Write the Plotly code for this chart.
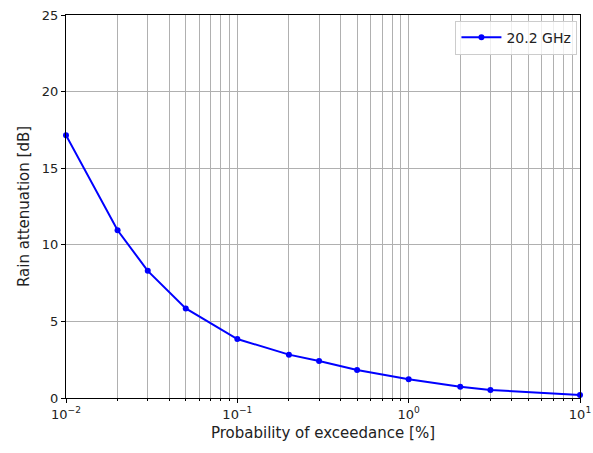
import plotly.graph_objects as go

prob = [0.01, 0.02, 0.03, 0.05, 0.1, 0.2, 0.3, 0.5, 1, 2, 3, 10]
atten = [17.15, 10.95, 8.3, 5.85, 3.85, 2.83, 2.42, 1.83, 1.22, 0.74, 0.53, 0.19]
series_name = "20.2 GHz"
xtick_vals = [0.01, 0.1, 1, 10]
xtick_text = ["10<sup>−2</sup>", "10<sup>−1</sup>", "10<sup>0</sup>", "10<sup>1</sup>"]
ytick_vals = [0, 5, 10, 15, 20, 25]

fig = go.Figure()
fig.add_trace(go.Scatter(
    x=prob, y=atten, mode="lines+markers", name=series_name,
    line=dict(color="#0000ff", width=2),
    marker=dict(color="#0000ff", size=6),
    cliponaxis=False,
))

fig.update_layout(
    width=593, height=453,
    margin=dict(l=66, r=13, t=15, b=55, autoexpand=False),
    paper_bgcolor="white", plot_bgcolor="white",
    font=dict(family="DejaVu Sans", size=13, color="#222"),
    showlegend=True,
    legend=dict(x=0.995, y=0.985, xanchor="right", yanchor="top",
                bgcolor="rgba(255,255,255,0.8)", bordercolor="#cccccc", borderwidth=1,
                font=dict(size=14), itemwidth=40),
    xaxis=dict(
        type="log", range=[-2, 1], automargin=False, ticklabeloverflow="allow",
        tickvals=xtick_vals, ticktext=xtick_text,
        showgrid=True, gridcolor="#b0b0b0", gridwidth=1,
        ticks="outside", ticklen=4, tickcolor="black",
        showline=True, linecolor="black", linewidth=1, mirror=True,
        minor=dict(showgrid=True, gridcolor="#b0b0b0", gridwidth=1,
                   ticks="outside", ticklen=2, tickcolor="black",
                   dtick="D1"),
        title=dict(text="Probability of exceedance [%]", font=dict(size=15), standoff=6),
        zeroline=False,
    ),
    yaxis=dict(
        range=[0, 25], tickvals=ytick_vals, automargin=False, ticklabeloverflow="allow",
        showgrid=True, gridcolor="#b0b0b0", gridwidth=1,
        ticks="outside", ticklen=4, tickcolor="black",
        showline=True, linecolor="black", linewidth=1, mirror=True,
        title=dict(text="Rain attenuation [dB]", font=dict(size=15), standoff=8),
        zeroline=False,
    ),
)

fig.write_html(
    "out.html",
    config={"displayModeBar": False},
    post_script="document.body.style.margin='0';document.body.style.overflow='hidden';",
)
